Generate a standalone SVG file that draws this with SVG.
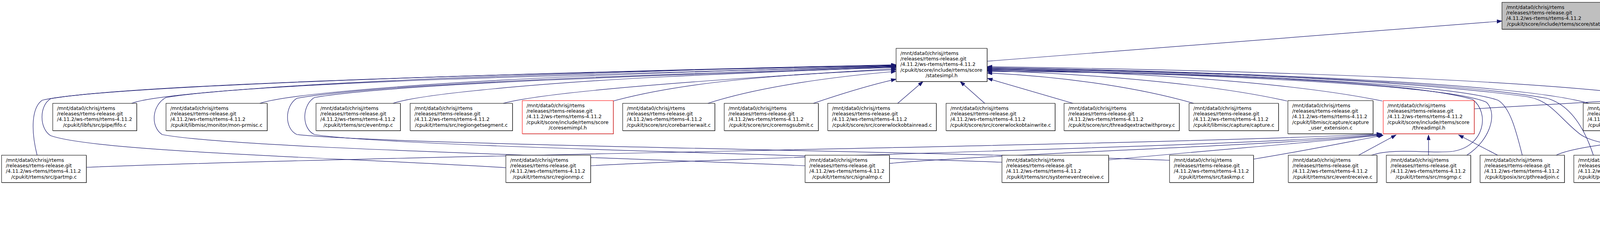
<svg xmlns="http://www.w3.org/2000/svg" width="7921" height="600" viewBox="0 0 7921 600">
<defs>
<marker id="a" markerWidth="14" markerHeight="10" refX="13" refY="4.5" orient="auto" markerUnits="userSpaceOnUse"><path d="M0,0 L13,4.5 L0,9 z" fill="#191970" stroke="#191970" stroke-width="1"/></marker>
</defs>
<style>
.node rect.s{fill:#555555;stroke:none}
.node rect.b{fill:#ffffff;stroke:#000000;stroke-width:1.1}
.node.red rect.b{stroke:#ff0000}
.node.top rect.b{fill:#bfbfbf}
.node text{font-family:"DejaVu Sans","Liberation Sans",sans-serif;font-size:12.6px;fill:#000000}
.node text.c{text-anchor:middle}
#edges path{fill:none;stroke:#191970;stroke-width:1.2;marker-end:url(#a)}
</style>
<rect x="0" y="0" width="7921" height="600" fill="#ffffff"/>
<g id="edges">
<path d="M2527,157 L3845,54"/>
<path d="M5623,157 L4135,52"/>
<path d="M3774,279 L5619,172"/>
<path d="M337,265 C400,240 800,212 1300,195 S2000,172 2294,167"/>
<path d="M665,265 C740,240 1100,212 1500,195 S2100,175 2294,169"/>
<path d="M1006,265 C1080,240 1400,212 1700,197 S2150,178 2294,172"/>
<path d="M1288,265 C1400,235 1800,205 2294,176"/>
<path d="M1570,259 C1750,210 2000,190 2294,179"/>
<path d="M1812,265 C1950,220 2150,195 2294,183"/>
<path d="M2082,265 C2170,235 2240,215 2294,203"/>
<path d="M2298,265 L2363,209"/>
<path d="M2521,265 L2458,209"/>
<path d="M2747,265 L2528,201"/>
<path d="M3056,265 C2900,220 2700,195 2527,187"/>
<path d="M3295,259 C3100,215 2800,190 2527,181"/>
<path d="M3539,259 C3300,210 2900,185 2527,177"/>
<path d="M4067,265 C3900,215 3200,185 2527,173"/>
<path d="M4324,265 C4100,210 3300,182 2527,171"/>
<path d="M95,398 C78,330 82,275 108,257 C250,222 1200,190 2294,166"/>
<path d="M1295,430 C900,405 250,390 130,348 C100,330 100,270 130,253 C350,215 1300,188 2294,168"/>
<path d="M2061,425 C1500,400 600,380 415,345 C385,325 388,270 425,250 C650,212 1500,190 2294,170"/>
<path d="M2565,416 C2000,395 1000,375 805,345 C772,330 772,270 805,250 C1000,215 1700,192 2294,173"/>
<path d="M2994,411 C2400,388 1000,372 760,345 C728,330 728,272 760,252 C980,213 1700,190 2294,171"/>
<path d="M3511,398 C3570,378 3660,395 3720,388 C3800,375 3815,290 3770,255 C3600,205 3000,185 2527,183"/>
<path d="M3755,398 C3815,360 3835,290 3805,262 C3700,215 3000,186 2527,180"/>
<path d="M3897,398 C3880,330 3865,275 3835,257 C3700,210 3000,184 2527,178"/>
<path d="M4079,398 C4060,340 4025,270 3960,252 C3700,205 3000,182 2527,176"/>
<path d="M4340,398 C4250,372 4090,385 4040,340 C3990,300 3970,258 3910,248 C3600,205 3000,180 2527,174"/>
<path d="M221,429 C1000,398 3000,372 3537,343"/>
<path d="M1512,425 C2000,398 3200,375 3537,344"/>
<path d="M2277,419 C2600,392 3300,372 3537,345"/>
<path d="M2838,410 C3100,385 3400,362 3539,346"/>
<path d="M3209,408 C3350,385 3460,362 3541,347"/>
<path d="M3478,398 L3574,346"/>
<path d="M3657,398 L3657,346"/>
<path d="M3834,398 L3734,346"/>
<path d="M4263,265 C4400,222 5000,190 5619,175"/>
<path d="M4536,265 C4660,222 5100,192 5619,178"/>
<path d="M5208,557 C4800,545 4420,520 4330,460 C4290,420 4310,360 4360,349 C4440,340 4520,352 4580,330 C4800,255 5200,200 5619,181"/>
<path d="M4737,398 C4860,300 5200,205 5619,184"/>
<path d="M4971,398 C5080,295 5320,210 5619,187"/>
<path d="M5190,398 C5230,330 5330,240 5619,190"/>
<path d="M5402,391 C5360,360 5345,275 5394,237 C5450,210 5540,195 5619,192"/>
<path d="M3984,398 C4100,340 5000,310 5370,300"/>
<path d="M4245,398 C4400,342 5000,315 5370,305"/>
<path d="M4530,398 C4660,345 5100,318 5370,310"/>
<path d="M4770,398 C4900,350 5200,328 5370,318"/>
<path d="M5010,398 C5110,362 5250,338 5370,325"/>
<path d="M5251,398 C5300,375 5350,360 5392,346"/>
<path d="M5578,258 L5688,204"/>
<path d="M5468,391 L5472,346"/>
<path d="M5491,342 L5486,388"/>
<path d="M5314,524 C5312,450 5340,380 5389,346"/>
<path d="M5359,524 L5417,479"/>
<path d="M5557,524 L5512,479"/>
<path d="M5601,524 C5612,450 5600,390 5558,347"/>
<path d="M5731,524 L5588,477"/>
<path d="M5767,524 C5720,460 5630,400 5566,347"/>
<path d="M5700,525 C6500,515 7600,500 7816,478 C7862,440 7860,350 7800,305 C7740,265 7650,250 7560,232 C7200,200 6500,188 5916,186"/>
<path d="M5941,559 C6600,550 7700,530 7863,478 C7920,420 7925,300 7863,253 C7750,205 6800,178 5916,176"/>
<path d="M5945,265 L5838,205"/>
<path d="M6179,265 C6100,240 6000,215 5918,201"/>
<path d="M6463,265 C6300,225 6100,195 5916,184"/>
<path d="M6747,265 C6550,215 6200,190 5916,180"/>
<path d="M7025,265 C6800,210 6300,185 5916,178"/>
<path d="M7324,265 C7100,205 6400,182 5916,177"/>
<path d="M7206,398 C7245,355 7268,295 7242,262 C7180,225 6700,195 5916,190"/>
<path d="M7509,398 C7565,345 7595,280 7555,252 C7400,210 6800,192 5916,188"/>
<path d="M7690,398 C7672,330 7640,272 7590,255 C7420,210 6800,188 5916,182"/>
<path d="M5730,398 C5680,365 5655,310 5665,270 C5675,240 5700,220 5710,205"/>
<path d="M5962,398 C5850,388 5740,382 5722,335 C5708,295 5728,240 5739,205"/>
<path d="M6214,398 C6000,382 5800,372 5765,330 C5750,300 5750,240 5754,205"/>
<path d="M6500,398 C6200,378 5900,368 5805,330 C5778,300 5768,240 5769,205"/>
<path d="M6789,398 C6500,372 5900,362 5825,322 C5800,292 5795,240 5792,205"/>
<path d="M5730,398 L5604,346"/>
<path d="M5958,398 C5850,370 5700,345 5608,333"/>
<path d="M6210,398 C6050,365 5800,340 5608,328"/>
<path d="M6497,398 C6300,360 5850,338 5608,324"/>
<path d="M6785,398 C6550,355 5900,335 5608,320"/>
<path d="M7055,398 C6800,352 6000,332 5608,317"/>
<path d="M7325,398 C7050,350 6100,330 5608,315"/>
<path d="M7610,398 C7300,348 6200,328 5608,313"/>
</g>
<g id="n-states" class="node top"><rect class="s" x="3846" y="7" width="290" height="69"/><rect class="b" x="3845" y="6" width="290" height="69"/><text x="3856" y="22.6">/mnt/data0/chrisj/rtems</text><text x="3856" y="36.9">/releases/rtems-release.git</text><text x="3856" y="51.2">/4.11.2/ws-rtems/rtems-4.11.2</text><text class="c" x="3990" y="65.5">/cpukit/score/include/rtems/score/states.h</text></g>
<g id="n-statesimpl" class="node"><rect class="s" x="2295" y="125" width="233" height="85"/><rect class="b" x="2294" y="124" width="233" height="85"/><text x="2305" y="140.6">/mnt/data0/chrisj/rtems</text><text x="2305" y="154.9">/releases/rtems-release.git</text><text x="2305" y="169.2">/4.11.2/ws-rtems/rtems-4.11.2</text><text x="2305" y="183.5">/cpukit/score/include/rtems/score</text><text class="c" x="2410.5" y="197.8">/statesimpl.h</text></g>
<g id="n-thread" class="node red"><rect class="s" x="5624" y="132" width="289" height="70"/><rect class="b" x="5623" y="131" width="289" height="70"/><text x="5634" y="147.6">/mnt/data0/chrisj/rtems</text><text x="5634" y="161.9">/releases/rtems-release.git</text><text x="5634" y="176.2">/4.11.2/ws-rtems/rtems-4.11.2</text><text class="c" x="5767.5" y="190.5">/cpukit/score/include/rtems/score/thread.h</text></g>
<g id="n-fifo" class="node"><rect class="s" x="136" y="266" width="215" height="70"/><rect class="b" x="135" y="265" width="215" height="70"/><text x="146" y="281.6">/mnt/data0/chrisj/rtems</text><text x="146" y="295.9">/releases/rtems-release.git</text><text x="146" y="310.2">/4.11.2/ws-rtems/rtems-4.11.2</text><text class="c" x="242.5" y="324.5">/cpukit/libfs/src/pipe/fifo.c</text></g>
<g id="n-mon-prmisc" class="node"><rect class="s" x="426" y="266" width="259" height="70"/><rect class="b" x="425" y="265" width="259" height="70"/><text x="436" y="281.6">/mnt/data0/chrisj/rtems</text><text x="436" y="295.9">/releases/rtems-release.git</text><text x="436" y="310.2">/4.11.2/ws-rtems/rtems-4.11.2</text><text class="c" x="554.5" y="324.5">/cpukit/libmisc/monitor/mon-prmisc.c</text></g>
<g id="n-eventmp" class="node"><rect class="s" x="810" y="266" width="216" height="70"/><rect class="b" x="809" y="265" width="216" height="70"/><text x="820" y="281.6">/mnt/data0/chrisj/rtems</text><text x="820" y="295.9">/releases/rtems-release.git</text><text x="820" y="310.2">/4.11.2/ws-rtems/rtems-4.11.2</text><text class="c" x="917" y="324.5">/cpukit/rtems/src/eventmp.c</text></g>
<g id="n-regiongetsegment" class="node"><rect class="s" x="1051" y="266" width="262" height="70"/><rect class="b" x="1050" y="265" width="262" height="70"/><text x="1061" y="281.6">/mnt/data0/chrisj/rtems</text><text x="1061" y="295.9">/releases/rtems-release.git</text><text x="1061" y="310.2">/4.11.2/ws-rtems/rtems-4.11.2</text><text class="c" x="1181" y="324.5">/cpukit/rtems/src/regiongetsegment.c</text></g>
<g id="n-coresemimpl" class="node red"><rect class="s" x="1338" y="259" width="233" height="85"/><rect class="b" x="1337" y="258" width="233" height="85"/><text x="1348" y="274.6">/mnt/data0/chrisj/rtems</text><text x="1348" y="288.9">/releases/rtems-release.git</text><text x="1348" y="303.2">/4.11.2/ws-rtems/rtems-4.11.2</text><text x="1348" y="317.5">/cpukit/score/include/rtems/score</text><text class="c" x="1453.5" y="331.8">/coresemimpl.h</text></g>
<g id="n-corebarrierwait" class="node"><rect class="s" x="1595" y="266" width="236" height="70"/><rect class="b" x="1594" y="265" width="236" height="70"/><text x="1605" y="281.6">/mnt/data0/chrisj/rtems</text><text x="1605" y="295.9">/releases/rtems-release.git</text><text x="1605" y="310.2">/4.11.2/ws-rtems/rtems-4.11.2</text><text class="c" x="1712" y="324.5">/cpukit/score/src/corebarrierwait.c</text></g>
<g id="n-coremsgsubmit" class="node"><rect class="s" x="1855" y="266" width="241" height="70"/><rect class="b" x="1854" y="265" width="241" height="70"/><text x="1865" y="281.6">/mnt/data0/chrisj/rtems</text><text x="1865" y="295.9">/releases/rtems-release.git</text><text x="1865" y="310.2">/4.11.2/ws-rtems/rtems-4.11.2</text><text class="c" x="1974.5" y="324.5">/cpukit/score/src/coremsgsubmit.c</text></g>
<g id="n-corerwlockobtainread" class="node"><rect class="s" x="2120" y="266" width="278" height="70"/><rect class="b" x="2119" y="265" width="278" height="70"/><text x="2130" y="281.6">/mnt/data0/chrisj/rtems</text><text x="2130" y="295.9">/releases/rtems-release.git</text><text x="2130" y="310.2">/4.11.2/ws-rtems/rtems-4.11.2</text><text class="c" x="2258" y="324.5">/cpukit/score/src/corerwlockobtainread.c</text></g>
<g id="n-corerwlockobtainwrite" class="node"><rect class="s" x="2423" y="266" width="279" height="70"/><rect class="b" x="2422" y="265" width="279" height="70"/><text x="2433" y="281.6">/mnt/data0/chrisj/rtems</text><text x="2433" y="295.9">/releases/rtems-release.git</text><text x="2433" y="310.2">/4.11.2/ws-rtems/rtems-4.11.2</text><text class="c" x="2561.5" y="324.5">/cpukit/score/src/corerwlockobtainwrite.c</text></g>
<g id="n-threadqextractwithproxy" class="node"><rect class="s" x="2725" y="266" width="295" height="70"/><rect class="b" x="2724" y="265" width="295" height="70"/><text x="2735" y="281.6">/mnt/data0/chrisj/rtems</text><text x="2735" y="295.9">/releases/rtems-release.git</text><text x="2735" y="310.2">/4.11.2/ws-rtems/rtems-4.11.2</text><text class="c" x="2871.5" y="324.5">/cpukit/score/src/threadqextractwithproxy.c</text></g>
<g id="n-capture" class="node"><rect class="s" x="3045" y="266" width="229" height="70"/><rect class="b" x="3044" y="265" width="229" height="70"/><text x="3055" y="281.6">/mnt/data0/chrisj/rtems</text><text x="3055" y="295.9">/releases/rtems-release.git</text><text x="3055" y="310.2">/4.11.2/ws-rtems/rtems-4.11.2</text><text class="c" x="3158.5" y="324.5">/cpukit/libmisc/capture/capture.c</text></g>
<g id="n-capture_user_extension" class="node"><rect class="s" x="3298" y="259" width="218" height="85"/><rect class="b" x="3297" y="258" width="218" height="85"/><text x="3308" y="274.6">/mnt/data0/chrisj/rtems</text><text x="3308" y="288.9">/releases/rtems-release.git</text><text x="3308" y="303.2">/4.11.2/ws-rtems/rtems-4.11.2</text><text x="3308" y="317.5">/cpukit/libmisc/capture/capture</text><text class="c" x="3406" y="331.8">_user_extension.c</text></g>
<g id="n-threadimpl" class="node red"><rect class="s" x="3542" y="259" width="233" height="85"/><rect class="b" x="3541" y="258" width="233" height="85"/><text x="3552" y="274.6">/mnt/data0/chrisj/rtems</text><text x="3552" y="288.9">/releases/rtems-release.git</text><text x="3552" y="303.2">/4.11.2/ws-rtems/rtems-4.11.2</text><text x="3552" y="317.5">/cpukit/score/include/rtems/score</text><text class="c" x="3657.5" y="331.8">/threadimpl.h</text></g>
<g id="n-coremsgseize" class="node"><rect class="s" x="4054" y="266" width="230" height="70"/><rect class="b" x="4053" y="265" width="230" height="70"/><text x="4064" y="281.6">/mnt/data0/chrisj/rtems</text><text x="4064" y="295.9">/releases/rtems-release.git</text><text x="4064" y="310.2">/4.11.2/ws-rtems/rtems-4.11.2</text><text class="c" x="4168" y="324.5">/cpukit/score/src/coremsgseize.c</text></g>
<g id="n-coremutexseize" class="node"><rect class="s" x="4309" y="266" width="241" height="70"/><rect class="b" x="4308" y="265" width="241" height="70"/><text x="4319" y="281.6">/mnt/data0/chrisj/rtems</text><text x="4319" y="295.9">/releases/rtems-release.git</text><text x="4319" y="310.2">/4.11.2/ws-rtems/rtems-4.11.2</text><text class="c" x="4428.5" y="324.5">/cpukit/score/src/coremutexseize.c</text></g>
<g id="n-pthread_h" class="node red"><rect class="s" x="5375" y="259" width="230" height="85"/><rect class="b" x="5374" y="258" width="230" height="85"/><text x="5385" y="274.6">/mnt/data0/chrisj/rtems</text><text x="5385" y="288.9">/releases/rtems-release.git</text><text x="5385" y="303.2">/4.11.2/ws-rtems/rtems-4.11.2</text><text x="5385" y="317.5">/cpukit/posix/include/rtems/posix</text><text class="c" x="5489" y="331.8">/pthread.h</text></g>
<g id="n-clockgetcpuclockid" class="node"><rect class="s" x="5882" y="266" width="258" height="70"/><rect class="b" x="5881" y="265" width="258" height="70"/><text x="5892" y="281.6">/mnt/data0/chrisj/rtems</text><text x="5892" y="295.9">/releases/rtems-release.git</text><text x="5892" y="310.2">/4.11.2/ws-rtems/rtems-4.11.2</text><text class="c" x="6010" y="324.5">/cpukit/posix/src/clockgetcpuclockid.c</text></g>
<g id="n-clockgetenableattr" class="node"><rect class="s" x="6165" y="266" width="257" height="70"/><rect class="b" x="6164" y="265" width="257" height="70"/><text x="6175" y="281.6">/mnt/data0/chrisj/rtems</text><text x="6175" y="295.9">/releases/rtems-release.git</text><text x="6175" y="310.2">/4.11.2/ws-rtems/rtems-4.11.2</text><text class="c" x="6292.5" y="324.5">/cpukit/posix/src/clockgetenableattr.c</text></g>
<g id="n-clocksetenableattr" class="node"><rect class="s" x="6447" y="266" width="256" height="70"/><rect class="b" x="6446" y="265" width="256" height="70"/><text x="6457" y="281.6">/mnt/data0/chrisj/rtems</text><text x="6457" y="295.9">/releases/rtems-release.git</text><text x="6457" y="310.2">/4.11.2/ws-rtems/rtems-4.11.2</text><text class="c" x="6574" y="324.5">/cpukit/posix/src/clocksetenableattr.c</text></g>
<g id="n-keyrundestructors" class="node"><rect class="s" x="6728" y="266" width="254" height="70"/><rect class="b" x="6727" y="265" width="254" height="70"/><text x="6738" y="281.6">/mnt/data0/chrisj/rtems</text><text x="6738" y="295.9">/releases/rtems-release.git</text><text x="6738" y="310.2">/4.11.2/ws-rtems/rtems-4.11.2</text><text class="c" x="6854" y="324.5">/cpukit/posix/src/keyrundestructors.c</text></g>
<g id="n-keysetspecific" class="node"><rect class="s" x="7007" y="266" width="227" height="70"/><rect class="b" x="7006" y="265" width="227" height="70"/><text x="7017" y="281.6">/mnt/data0/chrisj/rtems</text><text x="7017" y="295.9">/releases/rtems-release.git</text><text x="7017" y="310.2">/4.11.2/ws-rtems/rtems-4.11.2</text><text class="c" x="7119.5" y="324.5">/cpukit/posix/src/keysetspecific.c</text></g>
<g id="n-stackchk" class="node"><rect class="s" x="7311" y="266" width="244" height="70"/><rect class="b" x="7310" y="265" width="244" height="70"/><text x="7321" y="281.6">/mnt/data0/chrisj/rtems</text><text x="7321" y="295.9">/releases/rtems-release.git</text><text x="7321" y="310.2">/4.11.2/ws-rtems/rtems-4.11.2</text><text class="c" x="7432" y="324.5">/cpukit/libmisc/stackchk/stackchk.h</text></g>
<g id="n-partmp" class="node"><rect class="s" x="5" y="399" width="217" height="70"/><rect class="b" x="4" y="398" width="217" height="70"/><text x="15" y="414.6">/mnt/data0/chrisj/rtems</text><text x="15" y="428.9">/releases/rtems-release.git</text><text x="15" y="443.2">/4.11.2/ws-rtems/rtems-4.11.2</text><text class="c" x="112.5" y="457.5">/cpukit/rtems/src/partmp.c</text></g>
<g id="n-regionmp" class="node"><rect class="s" x="1296" y="399" width="217" height="70"/><rect class="b" x="1295" y="398" width="217" height="70"/><text x="1306" y="414.6">/mnt/data0/chrisj/rtems</text><text x="1306" y="428.9">/releases/rtems-release.git</text><text x="1306" y="443.2">/4.11.2/ws-rtems/rtems-4.11.2</text><text class="c" x="1403.5" y="457.5">/cpukit/rtems/src/regionmp.c</text></g>
<g id="n-signalmp" class="node"><rect class="s" x="2062" y="399" width="216" height="70"/><rect class="b" x="2061" y="398" width="216" height="70"/><text x="2072" y="414.6">/mnt/data0/chrisj/rtems</text><text x="2072" y="428.9">/releases/rtems-release.git</text><text x="2072" y="443.2">/4.11.2/ws-rtems/rtems-4.11.2</text><text class="c" x="2169" y="457.5">/cpukit/rtems/src/signalmp.c</text></g>
<g id="n-systemeventreceive" class="node"><rect class="s" x="2566" y="399" width="273" height="70"/><rect class="b" x="2565" y="398" width="273" height="70"/><text x="2576" y="414.6">/mnt/data0/chrisj/rtems</text><text x="2576" y="428.9">/releases/rtems-release.git</text><text x="2576" y="443.2">/4.11.2/ws-rtems/rtems-4.11.2</text><text class="c" x="2701.5" y="457.5">/cpukit/rtems/src/systemeventreceive.c</text></g>
<g id="n-taskmp" class="node"><rect class="s" x="2995" y="399" width="215" height="70"/><rect class="b" x="2994" y="398" width="215" height="70"/><text x="3005" y="414.6">/mnt/data0/chrisj/rtems</text><text x="3005" y="428.9">/releases/rtems-release.git</text><text x="3005" y="443.2">/4.11.2/ws-rtems/rtems-4.11.2</text><text class="c" x="3101.5" y="457.5">/cpukit/rtems/src/taskmp.c</text></g>
<g id="n-eventreceive" class="node"><rect class="s" x="3299" y="399" width="227" height="70"/><rect class="b" x="3298" y="398" width="227" height="70"/><text x="3309" y="414.6">/mnt/data0/chrisj/rtems</text><text x="3309" y="428.9">/releases/rtems-release.git</text><text x="3309" y="443.2">/4.11.2/ws-rtems/rtems-4.11.2</text><text class="c" x="3411.5" y="457.5">/cpukit/rtems/src/eventreceive.c</text></g>
<g id="n-msgmp" class="node"><rect class="s" x="3550" y="399" width="216" height="70"/><rect class="b" x="3549" y="398" width="216" height="70"/><text x="3560" y="414.6">/mnt/data0/chrisj/rtems</text><text x="3560" y="428.9">/releases/rtems-release.git</text><text x="3560" y="443.2">/4.11.2/ws-rtems/rtems-4.11.2</text><text class="c" x="3657" y="457.5">/cpukit/rtems/src/msgmp.c</text></g>
<g id="n-pthreadjoin" class="node"><rect class="s" x="3790" y="399" width="216" height="70"/><rect class="b" x="3789" y="398" width="216" height="70"/><text x="3800" y="414.6">/mnt/data0/chrisj/rtems</text><text x="3800" y="428.9">/releases/rtems-release.git</text><text x="3800" y="443.2">/4.11.2/ws-rtems/rtems-4.11.2</text><text class="c" x="3897" y="457.5">/cpukit/posix/src/pthreadjoin.c</text></g>
<g id="n-condwaitsupp" class="node"><rect class="s" x="4030" y="399" width="227" height="70"/><rect class="b" x="4029" y="398" width="227" height="70"/><text x="4040" y="414.6">/mnt/data0/chrisj/rtems</text><text x="4040" y="428.9">/releases/rtems-release.git</text><text x="4040" y="443.2">/4.11.2/ws-rtems/rtems-4.11.2</text><text class="c" x="4142.5" y="457.5">/cpukit/posix/src/condwaitsupp.c</text></g>
<g id="n-killinfo" class="node"><rect class="s" x="4331" y="399" width="217" height="70"/><rect class="b" x="4330" y="398" width="217" height="70"/><text x="4341" y="414.6">/mnt/data0/chrisj/rtems</text><text x="4341" y="428.9">/releases/rtems-release.git</text><text x="4341" y="443.2">/4.11.2/ws-rtems/rtems-4.11.2</text><text class="c" x="4438.5" y="457.5">/cpukit/posix/src/killinfo.c</text></g>
<g id="n-keycreate" class="node"><rect class="s" x="4571" y="399" width="217" height="70"/><rect class="b" x="4570" y="398" width="217" height="70"/><text x="4581" y="414.6">/mnt/data0/chrisj/rtems</text><text x="4581" y="428.9">/releases/rtems-release.git</text><text x="4581" y="443.2">/4.11.2/ws-rtems/rtems-4.11.2</text><text class="c" x="4678.5" y="457.5">/cpukit/posix/src/keycreate.c</text></g>
<g id="n-keydelete" class="node"><rect class="s" x="4811" y="399" width="217" height="70"/><rect class="b" x="4810" y="398" width="217" height="70"/><text x="4821" y="414.6">/mnt/data0/chrisj/rtems</text><text x="4821" y="428.9">/releases/rtems-release.git</text><text x="4821" y="443.2">/4.11.2/ws-rtems/rtems-4.11.2</text><text class="c" x="4918.5" y="457.5">/cpukit/posix/src/keydelete.c</text></g>
<g id="n-keygetspecific" class="node"><rect class="s" x="5051" y="399" width="229" height="70"/><rect class="b" x="5050" y="398" width="229" height="70"/><text x="5061" y="414.6">/mnt/data0/chrisj/rtems</text><text x="5061" y="428.9">/releases/rtems-release.git</text><text x="5061" y="443.2">/4.11.2/ws-rtems/rtems-4.11.2</text><text class="c" x="5164.5" y="457.5">/cpukit/posix/src/keygetspecific.c</text></g>
<g id="n-threadsup" class="node red"><rect class="s" x="5356" y="391" width="229" height="85"/><rect class="b" x="5355" y="390" width="229" height="85"/><text x="5366" y="406.6">/mnt/data0/chrisj/rtems</text><text x="5366" y="420.9">/releases/rtems-release.git</text><text x="5366" y="435.2">/4.11.2/ws-rtems/rtems-4.11.2</text><text x="5366" y="449.5">/cpukit/posix/include/rtems/posix</text><text class="c" x="5469.5" y="463.8">/threadsup.h</text></g>
<g id="n-pbarrierwait" class="node"><rect class="s" x="5710" y="399" width="216" height="70"/><rect class="b" x="5709" y="398" width="216" height="70"/><text x="5720" y="414.6">/mnt/data0/chrisj/rtems</text><text x="5720" y="428.9">/releases/rtems-release.git</text><text x="5720" y="443.2">/4.11.2/ws-rtems/rtems-4.11.2</text><text class="c" x="5817" y="457.5">/cpukit/posix/src/pbarrierwait.c</text></g>
<g id="n-prwlockrdlock" class="node"><rect class="s" x="5950" y="399" width="224" height="70"/><rect class="b" x="5949" y="398" width="224" height="70"/><text x="5960" y="414.6">/mnt/data0/chrisj/rtems</text><text x="5960" y="428.9">/releases/rtems-release.git</text><text x="5960" y="443.2">/4.11.2/ws-rtems/rtems-4.11.2</text><text class="c" x="6061" y="457.5">/cpukit/posix/src/prwlockrdlock.c</text></g>
<g id="n-prwlocktimedrdlock" class="node"><rect class="s" x="6198" y="399" width="261" height="70"/><rect class="b" x="6197" y="398" width="261" height="70"/><text x="6208" y="414.6">/mnt/data0/chrisj/rtems</text><text x="6208" y="428.9">/releases/rtems-release.git</text><text x="6208" y="443.2">/4.11.2/ws-rtems/rtems-4.11.2</text><text class="c" x="6327.5" y="457.5">/cpukit/posix/src/prwlocktimedrdlock.c</text></g>
<g id="n-prwlocktimedwrlock" class="node"><rect class="s" x="6484" y="399" width="263" height="70"/><rect class="b" x="6483" y="398" width="263" height="70"/><text x="6494" y="414.6">/mnt/data0/chrisj/rtems</text><text x="6494" y="428.9">/releases/rtems-release.git</text><text x="6494" y="443.2">/4.11.2/ws-rtems/rtems-4.11.2</text><text class="c" x="6614.5" y="457.5">/cpukit/posix/src/prwlocktimedwrlock.c</text></g>
<g id="n-prwlocktryrdlock" class="node"><rect class="s" x="6771" y="399" width="241" height="70"/><rect class="b" x="6770" y="398" width="241" height="70"/><text x="6781" y="414.6">/mnt/data0/chrisj/rtems</text><text x="6781" y="428.9">/releases/rtems-release.git</text><text x="6781" y="443.2">/4.11.2/ws-rtems/rtems-4.11.2</text><text class="c" x="6890.5" y="457.5">/cpukit/posix/src/prwlocktryrdlock.c</text></g>
<g id="n-prwlocktrywrlock" class="node"><rect class="s" x="7037" y="399" width="242" height="70"/><rect class="b" x="7036" y="398" width="242" height="70"/><text x="7047" y="414.6">/mnt/data0/chrisj/rtems</text><text x="7047" y="428.9">/releases/rtems-release.git</text><text x="7047" y="443.2">/4.11.2/ws-rtems/rtems-4.11.2</text><text class="c" x="7157" y="457.5">/cpukit/posix/src/prwlocktrywrlock.c</text></g>
<g id="n-key_h" class="node red"><rect class="s" x="7304" y="399" width="265" height="70"/><rect class="b" x="7303" y="398" width="265" height="70"/><text x="7314" y="414.6">/mnt/data0/chrisj/rtems</text><text x="7314" y="428.9">/releases/rtems-release.git</text><text x="7314" y="443.2">/4.11.2/ws-rtems/rtems-4.11.2</text><text class="c" x="7435.5" y="457.5">/cpukit/posix/include/rtems/posix/key.h</text></g>
<g id="n-canceleval" class="node"><rect class="s" x="7594" y="399" width="216" height="70"/><rect class="b" x="7593" y="398" width="216" height="70"/><text x="7604" y="414.6">/mnt/data0/chrisj/rtems</text><text x="7604" y="428.9">/releases/rtems-release.git</text><text x="7604" y="443.2">/4.11.2/ws-rtems/rtems-4.11.2</text><text class="c" x="7701" y="457.5">/cpukit/posix/src/canceleval.c</text></g>
<g id="n-cleanuppop" class="node"><rect class="s" x="5209" y="525" width="217" height="70"/><rect class="b" x="5208" y="524" width="217" height="70"/><text x="5219" y="540.6">/mnt/data0/chrisj/rtems</text><text x="5219" y="554.9">/releases/rtems-release.git</text><text x="5219" y="569.2">/4.11.2/ws-rtems/rtems-4.11.2</text><text class="c" x="5316.5" y="583.5">/cpukit/posix/src/cleanuppop.c</text></g>
<g id="n-cleanuppush" class="node"><rect class="s" x="5481" y="525" width="220" height="70"/><rect class="b" x="5480" y="524" width="220" height="70"/><text x="5491" y="540.6">/mnt/data0/chrisj/rtems</text><text x="5491" y="554.9">/releases/rtems-release.git</text><text x="5491" y="569.2">/4.11.2/ws-rtems/rtems-4.11.2</text><text class="c" x="5590" y="583.5">/cpukit/posix/src/cleanuppush.c</text></g>
<g id="n-cancelrun" class="node"><rect class="s" x="5726" y="525" width="216" height="70"/><rect class="b" x="5725" y="524" width="216" height="70"/><text x="5736" y="540.6">/mnt/data0/chrisj/rtems</text><text x="5736" y="554.9">/releases/rtems-release.git</text><text x="5736" y="569.2">/4.11.2/ws-rtems/rtems-4.11.2</text><text class="c" x="5833" y="583.5">/cpukit/posix/src/cancelrun.c</text></g>
</svg>
